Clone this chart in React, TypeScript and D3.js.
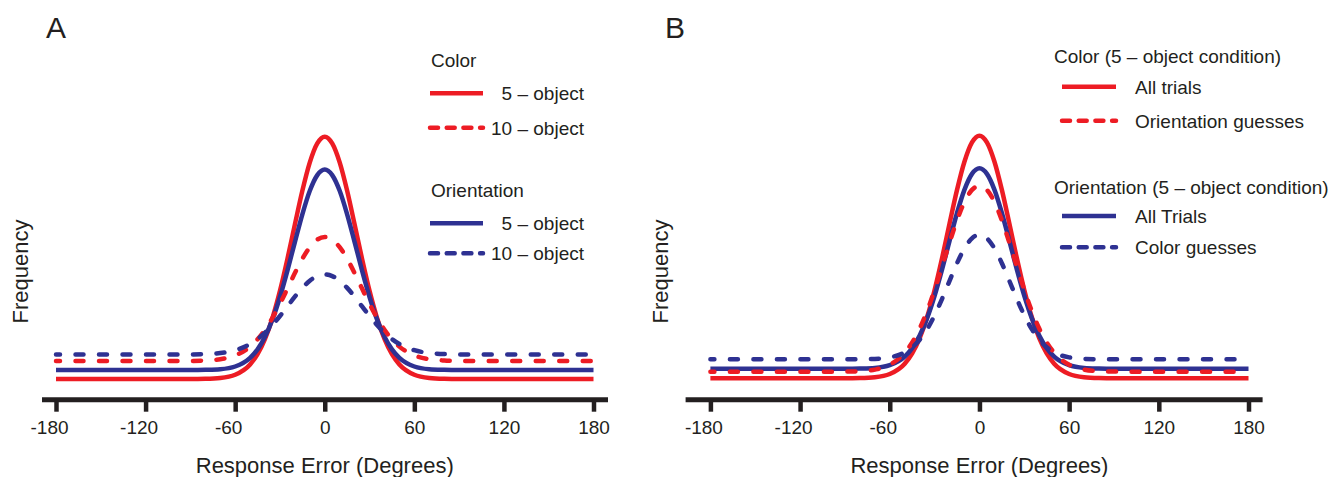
import React, { useRef, useEffect } from "react";
import * as d3 from "d3";

// response error grid (degrees) the curves were read at
const errors = [-180, -120, -90, -80, -70, -60, -50, -45, -40, -35, -30, -25, -20, -15, -10, -5, 0,
  5, 10, 15, 20, 25, 30, 35, 40, 45, 50, 60, 70, 80, 90, 120, 180];

// Panel A
const colorFive = [2.0, 2.0, 2.0, 2.02, 2.1, 2.43, 3.46, 4.49, 6.02, 8.12, 10.82, 14.01, 17.46, 20.82, 23.66, 25.56, 26.23,
  25.56, 23.66, 20.82, 17.46, 14.01, 10.82, 8.12, 6.02, 4.49, 3.46, 2.43, 2.1, 2.02, 2.0, 2.0, 2.0];
const colorTen = [3.8, 3.8, 3.81, 3.85, 3.98, 4.36, 5.24, 5.97, 6.93, 8.12, 9.51, 11.04, 12.59, 14.02, 15.18, 15.94, 16.2,
  15.94, 15.18, 14.02, 12.59, 11.04, 9.51, 8.12, 6.93, 5.97, 5.24, 4.36, 3.98, 3.85, 3.81, 3.8, 3.8];
const orientFive = [2.9, 2.9, 2.9, 2.92, 2.98, 3.25, 4.11, 4.96, 6.22, 7.96, 10.2, 12.84, 15.69, 18.47, 20.82, 22.39, 22.95,
  22.39, 20.82, 18.47, 15.69, 12.84, 10.2, 7.96, 6.22, 4.96, 4.11, 3.25, 2.98, 2.92, 2.9, 2.9, 2.9];
const orientTen = [4.45, 4.45, 4.46, 4.49, 4.6, 4.88, 5.5, 5.99, 6.63, 7.41, 8.3, 9.26, 10.23, 11.11, 11.83, 12.29, 12.45,
  12.29, 11.83, 11.11, 10.23, 9.26, 8.3, 7.41, 6.63, 5.99, 5.5, 4.88, 4.6, 4.49, 4.46, 4.45, 4.45];

// Panel B (5-object condition)
const colorAll = [2.07, 2.07, 2.07, 2.09, 2.17, 2.5, 3.53, 4.57, 6.09, 8.2, 10.9, 14.09, 17.55, 20.91, 23.75, 25.66, 26.33,
  25.66, 23.75, 20.91, 17.55, 14.09, 10.9, 8.2, 6.09, 4.57, 3.53, 2.5, 2.17, 2.09, 2.07, 2.07, 2.07];
const colorOrientGuess = [2.73, 2.73, 2.74, 2.78, 2.94, 3.42, 4.63, 5.66, 7.05, 8.81, 10.91, 13.24, 15.64, 17.87, 19.71, 20.91, 21.33,
  20.91, 19.71, 17.87, 15.64, 13.24, 10.91, 8.81, 7.05, 5.66, 4.63, 3.42, 2.94, 2.78, 2.74, 2.73, 2.73];
const orientAll = [3.03, 3.03, 3.03, 3.05, 3.11, 3.38, 4.24, 5.09, 6.35, 8.09, 10.32, 12.96, 15.82, 18.6, 20.94, 22.51, 23.07,
  22.51, 20.94, 18.6, 15.82, 12.96, 10.32, 8.09, 6.35, 5.09, 4.24, 3.38, 3.11, 3.05, 3.03, 3.03, 3.03];
const orientColorGuess = [3.97, 3.97, 3.97, 3.98, 4.01, 4.16, 4.66, 5.17, 5.93, 6.99, 8.37, 10.02, 11.82, 13.58, 15.07, 16.07, 16.43,
  16.07, 15.07, 13.58, 11.82, 10.02, 8.37, 6.99, 5.93, 5.17, 4.66, 4.16, 4.01, 3.98, 3.97, 3.97, 3.97];

const tickValues = [-180, -120, -60, 0, 60, 120, 180];

const RED = "#ed1c24";
const BLUE = "#2e3192";
const INK = "#231f20";
const FONT = "'Liberation Sans', Arial, Helvetica, sans-serif";

const panels = [
  {
    letter: "A", letterX: 46, freqX: 28,
    range: [56, 593.5], axisExt: [42, 608],
    series: [
      { values: colorFive, color: RED, dashed: false },
      { values: orientFive, color: BLUE, dashed: false },
      { values: colorTen, color: RED, dashed: true },
      { values: orientTen, color: BLUE, dashed: true },
    ],
    legend: {
      titleX: 431, lineX: [430, 483], textX: 584, anchor: "end",
      groups: [
        { title: "Color", titleY: 66.7, items: [
          { label: "5 – object", color: RED, dashed: false, y: 93.3 },
          { label: "10 – object", color: RED, dashed: true, y: 127.7 },
        ] },
        { title: "Orientation", titleY: 197.3, items: [
          { label: "5 – object", color: BLUE, dashed: false, y: 223.3 },
          { label: "10 – object", color: BLUE, dashed: true, y: 253.3 },
        ] },
      ],
    },
  },
  {
    letter: "B", letterX: 665, freqX: 668,
    range: [710.4, 1248.5], axisExt: [685.6, 1262.6],
    series: [
      { values: colorAll, color: RED, dashed: false },
      { values: orientAll, color: BLUE, dashed: false },
      { values: colorOrientGuess, color: RED, dashed: true },
      { values: orientColorGuess, color: BLUE, dashed: true },
    ],
    legend: {
      titleX: 1054, lineX: [1062, 1116], textX: 1135, anchor: "start",
      groups: [
        { title: "Color (5 – object condition)", titleY: 63, items: [
          { label: "All trials", color: RED, dashed: false, y: 86.7 },
          { label: "Orientation guesses", color: RED, dashed: true, y: 120.7 },
        ] },
        { title: "Orientation (5 – object condition)", titleY: 194, items: [
          { label: "All Trials", color: BLUE, dashed: false, y: 216 },
          { label: "Color guesses", color: BLUE, dashed: true, y: 247.3 },
        ] },
      ],
    },
  },
];

const App = () => {
  const svgRef = useRef<SVGSVGElement>(null);

  useEffect(() => {
    const svg = d3.select(svgRef.current);
    svg.selectAll("*").remove();

    const y = d3.scaleLinear().domain([0, 30]).range([399, 99]);
    const axisY = 399.7;

    panels.forEach((p) => {
      const x = d3.scaleLinear().domain([-180, 180]).range(p.range);
      const g = svg.append("g");

      // curves
      const line = d3.line<number>()
        .x((_, i) => x(errors[i]))
        .y((d) => y(d))
        .curve(d3.curveMonotoneX);

      p.series.forEach((s) => {
        g.append("path")
          .attr("d", line(s.values))
          .attr("fill", "none")
          .attr("stroke", s.color)
          .attr("stroke-width", 4.5)
          .attr("stroke-linejoin", "round")
          .attr("stroke-linecap", s.dashed ? "round" : "butt")
          .attr("stroke-dasharray", s.dashed ? "8 15.5" : null)
          .attr("stroke-dashoffset", s.dashed ? 4 : null);
      });

      // x axis
      const axis = d3.axisBottom(x)
        .tickValues(tickValues)
        .tickSize(12)
        .tickPadding(8.5)
        .tickFormat((d) => String(d));
      const ag = g.append("g")
        .attr("transform", `translate(0,${axisY})`)
        .call(axis)
        .attr("font-family", FONT)
        .attr("font-size", 19);
      ag.select(".domain").remove();
      ag.selectAll(".tick line").attr("stroke", INK).attr("stroke-width", 4.5);
      ag.selectAll(".tick text")
        .attr("fill", INK)
        .attr("dx", (d: any) => (d < 0 ? -7 : 0));
      ag.insert("line", ":first-child")
        .attr("x1", p.axisExt[0])
        .attr("x2", p.axisExt[1])
        .attr("stroke", INK)
        .attr("stroke-width", 5);

      // titles
      g.append("text")
        .attr("x", x(0))
        .attr("y", 473)
        .attr("text-anchor", "middle")
        .attr("font-family", FONT)
        .attr("font-size", 22)
        .attr("fill", INK)
        .text("Response Error (Degrees)");

      g.append("text")
        .attr("transform", `translate(${p.freqX},271.5) rotate(-90)`)
        .attr("text-anchor", "middle")
        .attr("font-family", FONT)
        .attr("font-size", 22)
        .attr("fill", INK)
        .text("Frequency");

      g.append("text")
        .attr("x", p.letterX)
        .attr("y", 38.3)
        .attr("font-family", FONT)
        .attr("font-size", 30)
        .attr("fill", INK)
        .text(p.letter);

      // legend
      const lg = p.legend;
      lg.groups.forEach((grp) => {
        g.append("text")
          .attr("x", lg.titleX)
          .attr("y", grp.titleY)
          .attr("font-family", FONT)
          .attr("font-size", 19)
          .attr("fill", INK)
          .text(grp.title);

        grp.items.forEach((it) => {
          g.append("line")
            .attr("x1", lg.lineX[0])
            .attr("x2", lg.lineX[1])
            .attr("y1", it.y)
            .attr("y2", it.y)
            .attr("stroke", it.color)
            .attr("stroke-width", 4.5)
            .attr("stroke-linecap", it.dashed ? "round" : "butt")
            .attr("stroke-dasharray", it.dashed ? "8 8.7" : null);

          g.append("text")
            .attr("x", lg.textX)
            .attr("y", it.y + 7)
            .attr("text-anchor", lg.anchor)
            .attr("font-family", FONT)
            .attr("font-size", 19)
            .attr("fill", INK)
            .text(it.label);
        });
      });
    });
  }, []);

  return (
    <div style={{ position: "absolute", left: 0, top: 0, width: 1330, height: 477, background: "white" }}>
      <svg ref={svgRef} width={1330} height={477} style={{ display: "block" }}></svg>
    </div>
  );
};

export default App;
